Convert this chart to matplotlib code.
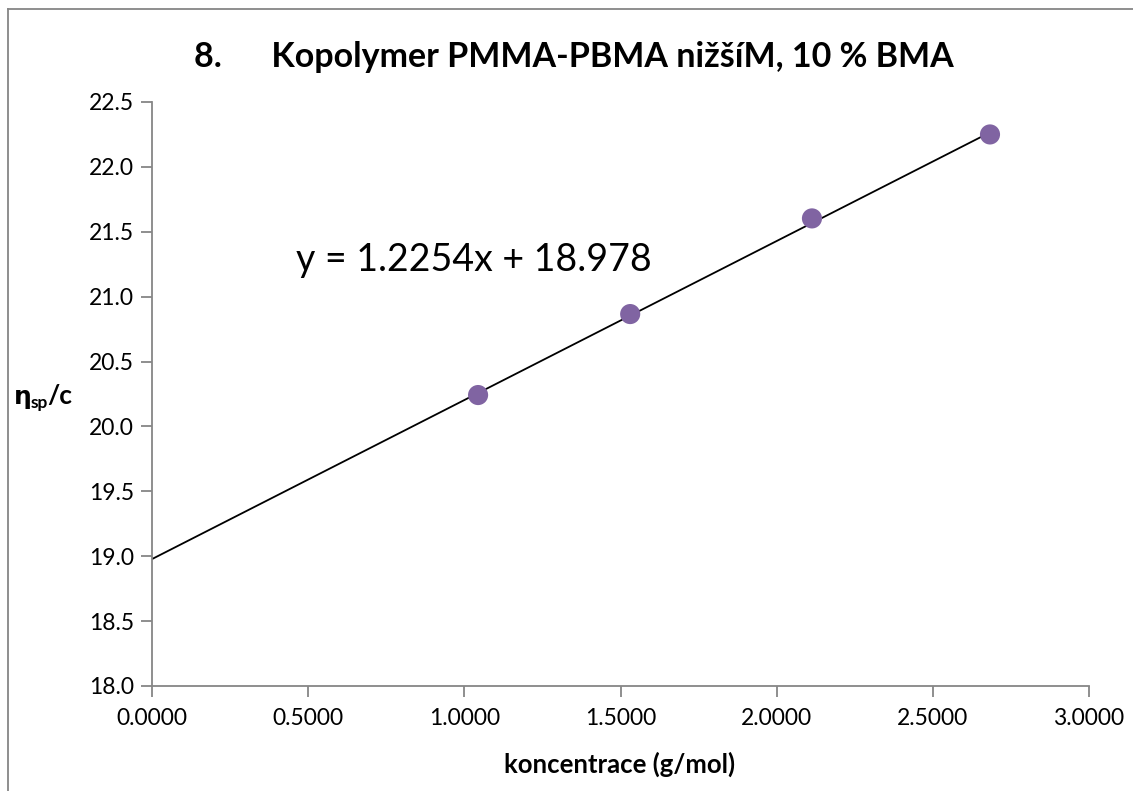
import matplotlib
matplotlib.use("Agg")
import matplotlib.pyplot as plt
import numpy as np
from matplotlib.lines import Line2D

# Data
conc = [1.044, 1.531, 2.113, 2.683]
eta_sp_c = [20.242, 20.866, 21.603, 22.250]
slope = 1.2254
intercept = 18.978
x_ticks = [0.0, 0.5, 1.0, 1.5, 2.0, 2.5, 3.0]
y_ticks = [18.0, 18.5, 19.0, 19.5, 20.0, 20.5, 21.0, 21.5, 22.0, 22.5]
title = "8.      Kopolymer PMMA-PBMA nižšíM, 10 % BMA"
xlabel = "koncentrace (g/mol)"
equation = "y = 1.2254x + 18.978"

W, H = 1133, 791
plt.rcParams['font.family'] = ['Lato', 'DejaVu Sans']
fig = plt.figure(figsize=(W / 100, H / 100), dpi=100)
ax = fig.add_axes([152 / W, 1 - 686 / H, (1089 - 152) / W, (686 - 102) / H])

gray = '#868686'
# trendline from 0 to last point
xl = np.array([0.0, max(conc)])
ax.plot(xl, slope * xl + intercept, color='black', lw=1.3, zorder=2)
ax.scatter(conc, eta_sp_c, s=210, color='#8064A2', zorder=3, edgecolors='none')

ax.set_xlim(0, 3.0)
ax.set_ylim(18.0, 22.5)
ax.set_xticks(x_ticks)
ax.set_yticks(y_ticks)
ax.set_xticklabels([f"{v:.4f}" for v in x_ticks])
ax.set_yticklabels([f"{v:.1f}" for v in y_ticks])
for s in ['top', 'right']:
    ax.spines[s].set_visible(False)
for s in ['left', 'bottom']:
    ax.spines[s].set_color(gray)
    ax.spines[s].set_linewidth(1.3)
ax.tick_params(axis='both', direction='out', length=8, width=1.3, color=gray,
               labelsize=16.5, labelcolor='black')
ax.tick_params(axis='x', pad=8)
ax.tick_params(axis='y', pad=5)

ax.text(0.462, 21.28, equation, fontsize=27, va='center', ha='left')

fig.text(574 / W, 1 - 57 / H, title, fontsize=24.5, fontweight='bold',
         ha='center', va='center')
fig.text(620 / W, 1 - 764 / H, xlabel, fontsize=18.5, fontweight='bold',
         ha='center', va='center')

# y label pieces: eta, subscript sp, /c
fig.text(14 / W, 1 - 404 / H, "η", fontsize=18, fontweight='bold',
         ha='left', va='baseline', family=['DejaVu Sans'])
fig.text(31 / W, 1 - 408 / H, "sp", fontsize=12.5, fontweight='bold',
         ha='left', va='baseline')
fig.text(47 / W, 1 - 404 / H, "/c", fontsize=19, fontweight='bold',
         ha='left', va='baseline')

# outer chart border (top and left visible)
fig.add_artist(Line2D([8 / W, 8 / W], [1 - 9 / H, 0], transform=fig.transFigure,
                      color=gray, lw=1.3))
fig.add_artist(Line2D([8 / W, 1], [1 - 9 / H, 1 - 9 / H], transform=fig.transFigure,
                      color=gray, lw=1.3))

fig.savefig("out.png", dpi=100)
